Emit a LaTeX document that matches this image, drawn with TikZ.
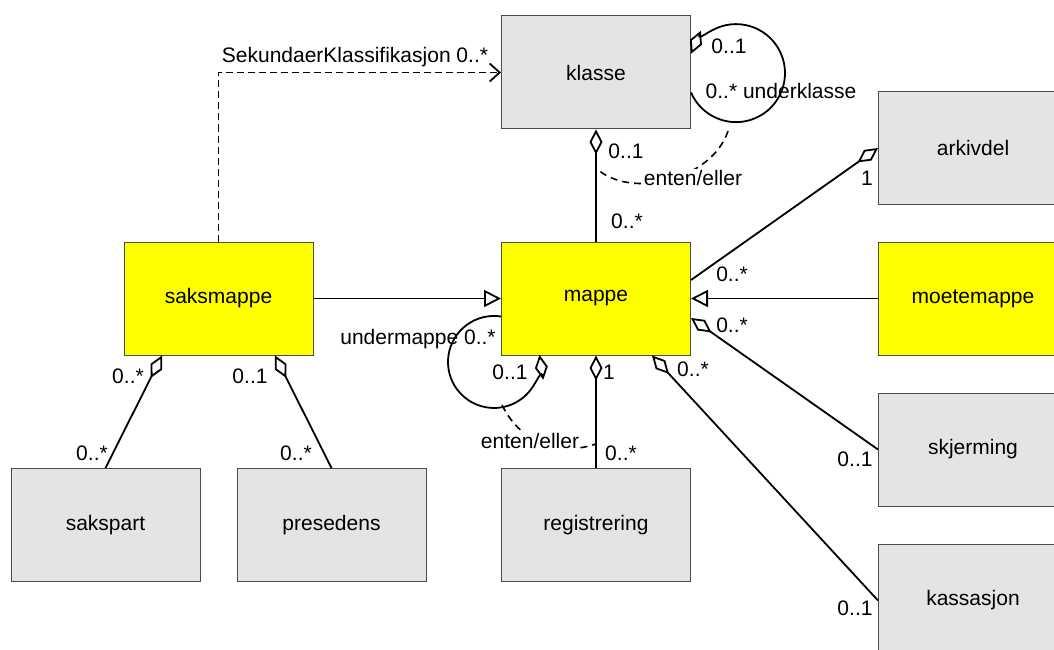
\documentclass[tikz,border=0pt]{standalone}
\usepackage{fontspec}
\setmainfont{Liberation Sans}
\usepackage{xcolor}
\usepackage{tikz}
\usetikzlibrary{positioning}
\usetikzlibrary{arrows.meta,shapes}
\definecolor{boxgray}{RGB}{228,228,228}
\definecolor{boxyellow}{RGB}{255,255,0}
\tikzstyle{classbox}=[rectangle,draw=black!70,fill=boxgray,minimum width=189pt,minimum height=113pt,inner sep=0pt,line width=1pt,font=\fontsize{21}{24}\selectfont]
\tikzstyle{folderbox}=[classbox,fill=boxyellow]
\tikzstyle{aggregation} = [draw,line width=1.8pt,-{Diamond[open,length=25pt,width=13pt]}]
\tikzstyle{generalization} = [draw,line width=1.8pt,-{Triangle[open,length=17pt,width=17pt]}]
\tikzstyle{dependency} = [draw,line width=1.8pt,dash pattern=on 7pt off 4pt,-{Straight Barb[length=10pt,width=18pt]}]
\tikzstyle{constraint} = [draw,line width=1.6pt,dash pattern=on 7pt off 5pt]
\tikzstyle{mult} = [font=\fontsize{21}{24}\selectfont,inner sep=1pt]
\tikzset{note/.style={mult,fill=white}}

\begin{document}
\begin{tikzpicture}[x=1pt,y=-1pt]
    \useasboundingbox (0,0) rectangle (1054,650);
    \clip (0,0) rectangle (1054,650);
    % First we draw the classes
    \foreach \pos/\name/\label in {{(596,72.5)/klasse/klasse}, {(973,148)/arkivdel/arkivdel},
    {(973,449.5)/skjerming/skjerming}, {(973,600.5)/kassasjon/kassasjon},
    {(105.5,525)/sakspart/sakspart}, {(331.5,525)/presedens/presedens}, {(596,525)/registrering/registrering}}
        \node[classbox] (\name) at \pos {\label};
    \foreach \pos/\name/\label in {{(218.5,298.5)/saksmappe/saksmappe}, {(596,298.5)/mappe/mappe}, {(973,298.5)/moetemappe/moetemappe}}
        \node[folderbox] (\name) at \pos {\label};

    % Connect classes with aggregations
    \path[aggregation] (mappe) -- (klasse);
    \path[aggregation] (registrering) -- (mappe);
    \path[aggregation] ([yshift=18.5pt]mappe.east) -- (arkivdel.west);
    \path[aggregation] (skjerming.west) -- ([yshift=-19.5pt]mappe.east);
    \path[aggregation] (kassasjon.west) -- ([xshift=56pt]mappe.south);
    \path[aggregation] (sakspart.north) -- ([xshift=-56.5pt]saksmappe.south);
    \path[aggregation] (presedens.north) -- ([xshift=56.5pt]saksmappe.south);
    % self loops
    \path[aggregation] ([yshift=-20pt]klasse.east) arc[start angle=156.7, end angle=-156.7, radius=49];
    \path[aggregation] ([yshift=-18pt]mappe.west) arc[start angle=-81.25, end angle=-368.75, radius=46];

    % Inheritance and secondary classification
    \path[generalization] (saksmappe) -- (mappe);
    \path[generalization] (moetemappe) -- (mappe);
    \path[dependency] (saksmappe) |- (klasse);

    % either/or constraints
    \coordinate (kloop) at (728,131);
    \coordinate (kline) at (596,168);
    \coordinate (mloop) at (502,405);
    \coordinate (mline) at (596,444);
    \path[constraint] (kloop) .. controls (712,180) and (630,200) .. (kline);
    \path[constraint] (mloop) .. controls (522,445) and (560,456) .. (mline);
    \node[note] (klasseor) at (693,178) {enten/eller};
    \node[note] (mappeor) at (530,441) {enten/eller};

    % Multiplicities and role names
    \foreach \pos/\name/\label in {{(355,57)/lsek/SekundaerKlassifikasjon 0..*},
    {(729,46)/lktop/0..1}, {(781,91)/lksub/0..* underklasse}, {(626,151)/lkbot/0..1}, {(627,221)/lmtop/0..*},
    {(867,178)/lark/1}, {(732,274)/lmark/0..*}, {(732,325)/lmskj/0..*}, {(693,369)/lmkas/0..*},
    {(855,459)/lskj/0..1}, {(855,608)/lkas/0..1},
    {(418,339)/lunder/undermappe 0..*}, {(510,372)/lmloop/0..1}, {(609,372)/lmreg/1}, {(621,453)/lreg/0..*},
    {(128,376)/lspart/0..*}, {(250,376)/lspres/0..1}, {(92,453)/lpart/0..*}, {(296,453)/lpres/0..*}}
        \node[mult] (\name) at \pos {\label};
\end{tikzpicture}
\end{document}
